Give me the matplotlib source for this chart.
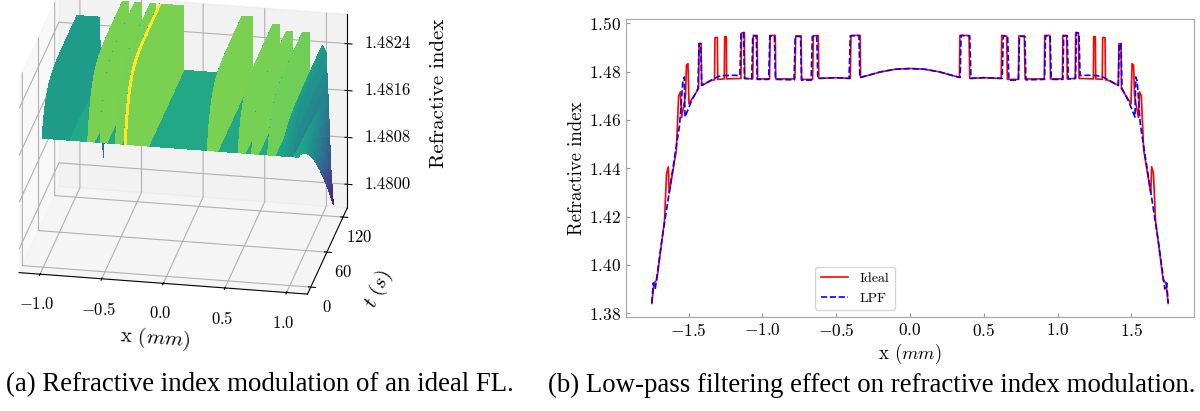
import numpy as np
import matplotlib
matplotlib.use("Agg")
import matplotlib.pyplot as plt
from matplotlib.ticker import FormatStrFormatter
from matplotlib import cm

plt.rcParams['font.family'] = 'serif'
plt.rcParams['font.serif'] = ['cmr10']
plt.rcParams['mathtext.fontset'] = 'cm'
plt.rcParams['axes.formatter.use_mathtext'] = True

# ---------------- (b) refractive index profiles (right half, mirrored) ----------------
ideal_x_half = [0.000, 0.100, 0.200, 0.300, 0.335, 0.338, 0.400, 0.405, 0.500, 0.618,
                0.622, 0.655, 0.660, 0.735, 0.738, 0.775, 0.780, 0.910, 0.913, 0.948,
                0.952, 1.033, 1.036, 1.062, 1.066, 1.120, 1.123, 1.142, 1.146, 1.243,
                1.245, 1.256, 1.259, 1.303, 1.306, 1.322, 1.325, 1.345, 1.412, 1.416,
                1.430, 1.433, 1.498, 1.505, 1.515, 1.522, 1.548, 1.556, 1.568, 1.584,
                1.632, 1.638, 1.650, 1.664, 1.716, 1.735, 1.750]
ideal_y_half = [1.4813, 1.4810, 1.4799, 1.4782, 1.4776, 1.4950, 1.4950, 1.4772, 1.4775, 1.4772,
                1.4950, 1.4948, 1.4768, 1.4768, 1.4948, 1.4948, 1.4770, 1.4770, 1.4950, 1.4950,
                1.4770, 1.4770, 1.4950, 1.4950, 1.4770, 1.4772, 1.4962, 1.4960, 1.4772, 1.4770,
                1.4945, 1.4945, 1.4770, 1.4768, 1.4942, 1.4940, 1.4766, 1.4764, 1.4743, 1.4916,
                1.4916, 1.4730, 1.4667, 1.4833, 1.4828, 1.4700, 1.4610, 1.4716, 1.4700, 1.4474,
                1.4297, 1.4406, 1.4380, 1.4185, 1.3937, 1.3925, 1.3840]

lpf_x_half = [0.000, 0.100, 0.200, 0.300, 0.340, 0.346, 0.405, 0.413, 0.500, 0.625,
              0.632, 0.662, 0.670, 0.735, 0.742, 0.778, 0.786, 0.912, 0.919, 0.950,
              0.958, 1.036, 1.042, 1.066, 1.073, 1.122, 1.128, 1.145, 1.153, 1.200,
              1.260, 1.300, 1.345, 1.390, 1.412, 1.418, 1.430, 1.437, 1.480, 1.525,
              1.530, 1.540, 1.562, 1.637, 1.682, 1.727, 1.740, 1.750]
lpf_y_half = [1.4813, 1.4810, 1.4799, 1.4782, 1.4776, 1.4950, 1.4948, 1.4772, 1.4775, 1.4772,
              1.4948, 1.4946, 1.4765, 1.4765, 1.4946, 1.4946, 1.4766, 1.4768, 1.4948, 1.4948,
              1.4768, 1.4768, 1.4948, 1.4948, 1.4770, 1.4772, 1.4962, 1.4960, 1.4784, 1.4785,
              1.4784, 1.4780, 1.4766, 1.4750, 1.4743, 1.4916, 1.4916, 1.4730, 1.4680, 1.4612,
              1.4778, 1.4760, 1.4578, 1.4281, 1.4102, 1.3900, 1.3925, 1.3842]

def mirror(xs, ys):
    xs = np.asarray(xs); ys = np.asarray(ys)
    return np.concatenate([-xs[::-1], xs[1:]]), np.concatenate([ys[::-1], ys[1:]])

ideal_x, ideal_y = mirror(ideal_x_half, ideal_y_half)
lpf_x, lpf_y = mirror(lpf_x_half, lpf_y_half)

# ---------------- (a) surface description ----------------
x_surf = np.linspace(-1.01, 1.07, 417)
t_surf = np.linspace(0, 130, 66)
base_level = 1.4818
growth_time = 14.0
band_lo = [-1.01, -0.64, -0.54, -0.42, -0.32, 0.33, 0.58, 0.69, 0.82]
band_hi = [-0.80, -0.59, -0.49, -0.37, -0.15, 0.41, 0.64, 0.74, 0.88]
band_peak = [1.4826, 1.4829, 1.4829, 1.4829, 1.4829, 1.4828, 1.4827, 1.4826, 1.4826]
band_colour = [0.55, 0.80, 0.80, 0.79, 0.80, 0.80, 0.79, 0.79, 0.78]
plateau_colour = 0.60
stripe_lo, stripe_hi, stripe_peak, stripe_colour = -0.345, -0.32, 1.4829, 1.0
# right end: profile reached at the last time step
edge_x = [0.90, 0.94, 0.98, 1.01, 1.03, 1.05, 1.07]
edge_back = [1.4818, 1.4822, 1.4824, 1.4823, 1.4814, 1.4803, 1.4797]
edge_colour = [0.60, 0.57, 0.55, 0.50, 0.38, 0.20, 0.02]
dip_x, dip_w, dip_bottom, dip_colour = -0.80, 0.03, 1.4799, 0.35

X, T = np.meshgrid(x_surf, t_surf)
g = 1 - np.exp(-T / growth_time)
gl = (T / t_surf[-1]) ** 1.5
Z = np.full(X.shape, base_level)
C = np.full(X.shape, plateau_colour)
for lo, hi, pk, cl in zip(band_lo, band_hi, band_peak, band_colour):
    m = (X >= lo) & (X <= hi)
    Z = np.where(m, base_level + (pk - base_level) * g, Z)
    C = np.where(m, cl, C)
m = (X >= stripe_lo) & (X <= stripe_hi)
Z = np.where(m, base_level + (stripe_peak - base_level) * g, Z)
C = np.where(m, stripe_colour, C)
eb = np.interp(x_surf, edge_x, edge_back)[None, :] * np.ones_like(X)
ec = np.interp(x_surf, edge_x, edge_colour)[None, :] * np.ones_like(X)
me = X >= edge_x[0]
rise = eb > base_level
Z = np.where(me & rise, base_level + (eb - base_level) * g, Z)
Z = np.where(me & ~rise, base_level + (eb - base_level) * gl, Z)
C = np.where(me & rise, ec, C)
C = np.where(me & ~rise, plateau_colour + (ec - plateau_colour) * gl, C)
dw = np.clip(1 - np.abs(X - dip_x) / dip_w, 0, 1) * (T / t_surf[-1]) ** 6
Z = Z - (base_level - dip_bottom) * dw
C = np.where(dw > 0.3, dip_colour, C)
facecols = cm.viridis(C)

# ---------------- figure ----------------
fig = plt.figure(figsize=(12, 4.11), dpi=100)

ax3 = fig.add_axes([-0.0667, 0.163, 0.43, 0.95], projection='3d')
ax3.set_proj_type('ortho')
ax3.set_box_aspect((4.0, 2.98, 2.88), zoom=1.05)
ax3.view_init(elev=23.7, azim=-79.5)
ax3.plot_surface(X, T, Z, facecolors=facecols, shade=False,
                 rstride=1, cstride=1, linewidth=0, antialiased=False)
ax3.set_xlim(-1.17, 1.17)
ax3.set_ylim(-12, 136)
ax3.set_zlim(1.4796, 1.4829)
ax3.set_xticks([-1.0, -0.5, 0.0, 0.5, 1.0])
ax3.set_yticks([0, 60, 120])
ax3.set_zticks([1.4800, 1.4808, 1.4816, 1.4824])
ax3.zaxis.set_major_formatter(FormatStrFormatter('%.4f'))
ax3.tick_params(labelsize=12)
ax3.tick_params(axis='z', pad=10)
ax3.tick_params(axis='y', pad=0)
ax3.set_xlabel(r'x $(mm)$', fontsize=15, labelpad=8)
ax3.set_ylabel(r'$t\ (s)$', fontsize=15, labelpad=5)
ax3.set_zlabel('Refractive index', fontsize=15, labelpad=20)
ax3.zaxis.set_ticks_position('upper')
ax3.zaxis.set_label_position('upper')

ax = fig.add_axes([626/1200, 1 - 317/411, 568/1200, 298/411])
ax.plot(ideal_x, ideal_y, color='red', lw=1.2, label='Ideal')
ax.plot(lpf_x, lpf_y, color='blue', lw=1.2, ls='--', label='LPF')
ax.set_yticks([1.38, 1.40, 1.42, 1.44, 1.46, 1.48, 1.50])
ax.set_xticks([-1.5, -1.0, -0.5, 0.0, 0.5, 1.0, 1.5])
ax.tick_params(direction='in', length=3, color='#999999', labelsize=12.5)
for s in ax.spines.values():
    s.set_color('#aaaaaa')
    s.set_linewidth(0.9)
ax.set_xlabel(r'x $(mm)$', fontsize=13.5, labelpad=2)
ax.set_ylabel('Refractive index', fontsize=13.5, labelpad=2)
ax.legend(loc='lower left', bbox_to_anchor=(0.333, 0.023), borderaxespad=0,
          fontsize=10, handlelength=2.0)

fig.text(0.2167, 0.063, '(a) Refractive index modulation of an ideal FL.',
         family='Liberation Serif', fontsize=19.4, ha='center', va='center')
fig.text(0.726, 0.063, '(b) Low-pass filtering effect on refractive index modulation.',
         family='Liberation Serif', fontsize=19.4, ha='center', va='center')

fig.savefig('out.png', dpi=100)
